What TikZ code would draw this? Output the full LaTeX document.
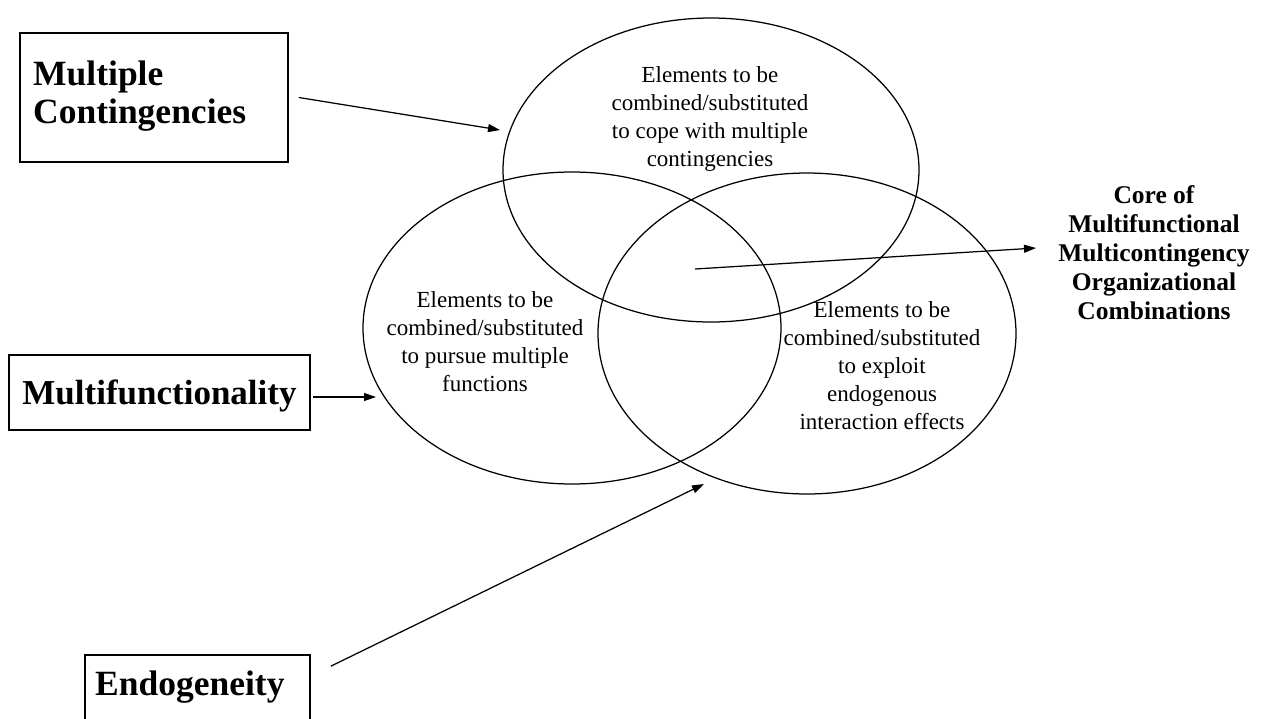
\documentclass[tikz,border=0pt]{standalone}
\usepackage{fontspec}
\setmainfont{Liberation Serif}
\usetikzlibrary{shapes.geometric,arrows.meta}
\begin{document}
\begin{tikzpicture}[x=1pt,y=-1pt,
  venn/.style={ellipse, draw, line width=1.25pt, inner sep=0pt},
  boxst/.style={draw, rectangle, line width=1.6pt, inner sep=0pt},
  arr/.style={-{Triangle[length=12pt,width=8pt]}, line width=1.25pt},
  etext/.style={align=center, inner sep=0pt, font=\fontsize{23}{28}\selectfont},
  btext/.style={inner sep=0pt, font=\bfseries\fontsize{35.5}{38}\selectfont},
  ctext/.style={align=center, inner sep=0pt, font=\bfseries\fontsize{25.5}{29}\selectfont}]
\useasboundingbox (0,0) rectangle (1261,718);
\clip (0,0) rectangle (1261,718);
\fill[white] (0,0) rectangle (1261,718);
% ellipses
\node[venn, minimum width=416pt, minimum height=304pt] (E1) at (711,170) {};
\node[venn, minimum width=418pt, minimum height=312pt] (E2) at (572,328) {};
\node[venn, minimum width=418pt, minimum height=321pt] (E3) at (807,333.5) {};
% ellipse texts
\node[etext, anchor=north] (T1) at (710,66) {Elements to be\\combined/substituted\\to cope with multiple\\contingencies};
\node[etext, anchor=north] (T2) at (485,291) {Elements to be\\combined/substituted\\to pursue multiple\\functions};
\node[etext, anchor=north] (T3) at (882,301) {Elements to be\\combined/substituted\\to exploit\\endogenous\\interaction effects};
% boxes
\node[boxst, minimum width=268pt, minimum height=129pt] (B1) at (154,97.5) {};
\node[btext, anchor=north west, align=left] (L1) at (33,60.5) {Multiple\\Contingencies};
\node[boxst, minimum width=301pt, minimum height=75pt, text depth=0pt, font=\bfseries\fontsize{35}{38}\selectfont] (B2) at (159.5,392.5) {Multifunctionality};
\node[boxst, minimum width=225pt, minimum height=105pt] (B3) at (197.5,707.5) {};
\node[btext, anchor=base west, font=\bfseries\fontsize{35.5}{38}\selectfont] (L3) at (95,695) {Endogeneity};
% core label
\node[ctext, anchor=north] (core) at (1154,185) {Core of\\Multifunctional\\Multicontingency\\Organizational\\Combinations};
% arrow end points
\coordinate (a1e) at (500,130);
\coordinate (a2e) at (376,397);
\coordinate (a3e) at (704,484);
\coordinate (c0) at (695,269);
\coordinate (a4e) at (1036,248);
% arrows
\draw[arr] ([xshift=10pt]B1.east) -- (a1e);
\draw[arr] ([xshift=2pt,yshift=-4.5pt]B2.east) -- (a2e);
\draw[arr] ([xshift=20pt,yshift=-12pt]B3.north east) -- (a3e);
\draw[arr] (c0) -- (a4e);
\end{tikzpicture}
\end{document}
